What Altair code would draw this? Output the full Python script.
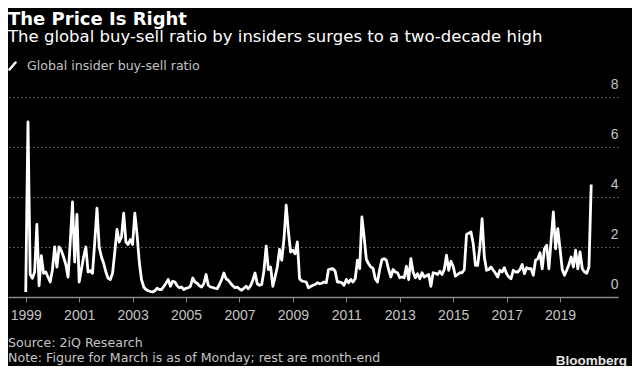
import altair as alt
import pandas as pd

# ---- texts ----
title_text = "The Price Is Right"
subtitle_text = "The global buy-sell ratio by insiders surges to a two-decade high"
legend_text = "Global insider buy-sell ratio"
source_text = "Source: 2iQ Research"
note_text = "Note: Figure for March is as of Monday; rest are month-end"
brand_text = "Bloomberg"

# ---- axes ----
x_ticks = [1999, 2001, 2003, 2005, 2007, 2009, 2011, 2013, 2015, 2017, 2019]
y_ticks = [0, 2, 4, 6, 8]

# ---- monthly global insider buy-sell ratio (Jan 1999 .. Mar 2020) ----
r1999 = [0.2, 7.0, 0.9, 0.75, 1.0, 2.9, 0.45, 1.65, 0.95, 1.0, 0.8, 0.6]
r2000 = [1.1, 2.0, 1.2, 2.0, 1.85, 1.6, 1.3, 0.8, 2.2, 3.8, 1.4, 3.3]
r2001 = [0.6, 1.1, 1.6, 2.0, 1.0, 1.05, 0.95, 2.2, 3.55, 2.0, 1.6, 1.35]
r2002 = [1.0, 0.75, 0.7, 0.95, 1.8, 2.7, 2.2, 2.4, 3.35, 2.2, 2.1, 2.3]
r2003 = [2.1, 3.35, 2.5, 1.4, 0.7, 0.4, 0.3, 0.25, 0.22, 0.2, 0.25, 0.35]
r2004 = [0.3, 0.3, 0.42, 0.55, 0.7, 0.43, 0.63, 0.6, 0.45, 0.37, 0.4, 0.3]
r2005 = [0.35, 0.37, 0.43, 0.76, 0.6, 0.55, 0.45, 0.4, 0.53, 0.9, 0.47, 0.4]
r2006 = [0.38, 0.35, 0.33, 0.5, 0.7, 0.96, 0.73, 0.67, 0.55, 0.45, 0.37, 0.4]
r2007 = [0.32, 0.27, 0.35, 0.43, 0.33, 0.45, 0.67, 0.96, 0.53, 0.47, 0.5, 1.05]
r2008 = [2.03, 1.1, 1.2, 0.43, 0.8, 1.2, 1.9, 1.47, 2.33, 3.67, 2.6, 1.8]
r2009 = [1.87, 1.73, 2.2, 0.73, 0.64, 0.62, 0.6, 0.37, 0.42, 0.47, 0.5, 0.57]
r2010 = [0.53, 0.55, 0.6, 0.57, 1.1, 1.12, 1.13, 1.03, 0.6, 0.6, 0.57, 0.47]
r2011 = [0.7, 0.57, 0.7, 0.6, 0.73, 1.47, 1.13, 3.2, 2.4, 1.5, 1.33, 1.2]
r2012 = [1.15, 0.73, 0.6, 1.1, 1.5, 1.53, 1.47, 1.1, 0.8, 1.1, 1.0, 0.97]
r2013 = [0.77, 0.8, 0.77, 1.23, 0.7, 1.53, 1.0, 0.77, 0.93, 0.73, 0.97, 0.8]
r2014 = [0.85, 0.9, 0.43, 0.97, 0.95, 0.9, 1.03, 0.9, 1.1, 1.67, 1.07, 1.43]
r2015 = [1.23, 0.83, 0.9, 0.97, 0.97, 1.1, 2.5, 2.55, 2.6, 2.13, 1.27, 1.27]
r2016 = [2.0, 3.13, 1.6, 1.07, 1.1, 1.2, 1.07, 0.95, 0.8, 1.07, 1.0, 1.17]
r2017 = [0.93, 0.8, 0.73, 1.07, 1.0, 1.0, 1.1, 1.3, 0.93, 1.17, 1.13, 1.13]
r2018 = [0.87, 1.47, 1.53, 1.77, 1.13, 1.93, 2.07, 1.13, 2.27, 3.4, 1.93, 2.73]
r2019 = [1.93, 1.1, 0.87, 1.07, 1.3, 1.6, 1.2, 1.87, 1.13, 1.8, 1.13, 1.0]
r2020 = [0.95, 1.2, 4.5]

years = [r1999, r2000, r2001, r2002, r2003, r2004, r2005, r2006, r2007, r2008, r2009,
         r2010, r2011, r2012, r2013, r2014, r2015, r2016, r2017, r2018, r2019, r2020]
start_year = 1999

rows = []
for yi, vals in enumerate(years):
    for mi, v in enumerate(vals):
        rows.append({"t": start_year + yi + mi / 12.0, "ratio": v})
df = pd.DataFrame(rows)

W, H = 610, 200
FONT = "Liberation Sans"
FONT2 = "DejaVu Sans"
AXIS_GRAY = "#8a8a8a"
LABEL_GRAY = "#c4c4c4"

line = alt.Chart(df).mark_line(color="white", strokeWidth=2.8, strokeJoin="round").encode(
    x=alt.X("t:Q",
            scale=alt.Scale(domain=[1998.336, 2021.17], nice=False, zero=False),
            axis=alt.Axis(values=x_ticks, format="d", title=None, grid=False, orient="bottom",
                          domainColor=AXIS_GRAY, tickColor=AXIS_GRAY, tickSize=5, domainWidth=1.5,
                          labelColor=LABEL_GRAY, labelFontSize=14, labelFont=FONT,
                          labelPadding=6, labelFlush=False)),
    y=alt.Y("ratio:Q",
            scale=alt.Scale(domain=[0, 8], nice=False),
            axis=alt.Axis(orient="right", values=y_ticks, title=None, grid=True,
                          gridColor="#707070", gridDash=[1.5, 2.5], gridWidth=1,
                          domain=False, ticks=False, labelAlign="right",
                          labelBaseline="alphabetic", labelOffset=-9, labelPadding=0,
                          labelFlush=False, labelColor=LABEL_GRAY, labelFontSize=14,
                          labelFont=FONT)),
)


def text_layer(s, x, y, size, color, weight="normal", font=FONT, align="left"):
    return alt.Chart(pd.DataFrame({"s": [s]})).mark_text(
        align=align, baseline="alphabetic", fontSize=size, color=color,
        fontWeight=weight, font=font
    ).encode(x=alt.value(x), y=alt.value(y), text="s:N")


title = text_layer(title_text, 0, -72.5, 18, "#ffffff", weight="bold", font=FONT2)
subtitle = text_layer(subtitle_text, 0, -55, 16.5, "#ffffff", font=FONT2)
legend_label = text_layer(legend_text, 19, -27, 12.6, LABEL_GRAY, font=FONT2)
legend_swatch = alt.Chart(pd.DataFrame({"s": [legend_text]})).mark_rule(
    color="white", strokeWidth=2.5, strokeCap="round"
).encode(x=alt.value(1.5), x2=alt.value(7.5), y=alt.value(-27.5), y2=alt.value(-34.5))
source = text_layer(source_text, 0, 250, 12.6, LABEL_GRAY, font=FONT2)
note = text_layer(note_text, 0, 265, 12.6, LABEL_GRAY, font=FONT2)
brand = text_layer(brand_text, 619, 267.5, 13.5, "#e6e6e6", weight="bold", align="right")

chart = alt.layer(line, title, subtitle, legend_swatch, legend_label, source, note, brand).properties(
    width=W, height=H,
    padding={"left": 0, "top": 89, "right": 14, "bottom": 69},
    autosize=alt.AutoSizeParams(type="none"),
    background="#000000",
).configure_view(stroke=None)

chart.save("out.html", embed_options={"renderer": "svg", "actions": False})
